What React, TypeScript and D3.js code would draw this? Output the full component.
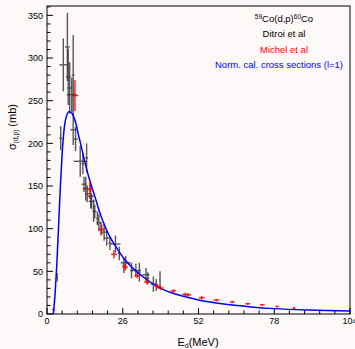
import * as d3 from "d3"

// Ditroi et al: energy (MeV), cross section (mb), errors
const ditroiE = [2.2, 3.5, 4.7, 5.6, 7.0, 7.3, 7.8, 8.5, 9.0, 9.0, 9.8, 11.4, 12.3, 12.7, 13.3, 13.6, 13.8, 15.0, 15.3, 16.0, 16.4, 17.3, 17.8, 18.5, 19.6, 20.5, 21.6, 23.5, 24.8, 26.4, 27.0, 29.0, 30.5, 31.7, 34.0, 34.6, 36.5, 37.5, 38.8]
const ditroiSigma = [5, 43, 206, 292, 313, 278, 265, 257, 280, 216, 205, 179, 176, 152, 147, 183, 141, 138, 132, 121, 120, 112, 107, 100, 96, 89, 83, 82, 71, 57, 60, 51, 51, 49, 46, 42, 35, 34, 40]
const ditroiErr = [2, 5, 14, 31, 40, 33, 30, 20, 47, 18, 14, 18, 12, 9, 14, 17, 10, 14, 9, 13, 8, 8, 10, 8, 10, 9, 8, 10, 8, 9, 8, 9, 8, 11, 8, 7, 9, 7, 10]
const ditroiEErr = [0.3, 0.3, 0.5, 1.4, 0.8, 0.8, 0.8, 1.7, 0.5, 1.0, 0.8, 2.3, 0.5, 0.8, 1.0, 0.5, 0.6, 1.0, 1.0, 0.4, 0.6, 0.4, 0.8, 0.4, 0.9, 0.9, 0.5, 1.7, 0.5, 0.5, 1.7, 0.5, 1.7, 0.4, 1.2, 0.5, 1.0, 0.4, 0.3]

// Michel et al
const michelE = [9.6, 14.7, 18.8, 23.0, 26.8, 31.0, 34.3, 37.9, 39.0, 43.4, 47.4, 48.5, 53.1, 58.2, 63.6, 68.9, 73.9, 79.0, 84.8]
const michelSigma = [256, 146, 99, 70, 55, 45, 37.5, 32.5, 30.5, 27, 23, 22.5, 19, 16.3, 14, 12, 10.8, 8.8, 6.9]
const michelErr = [18, 11, 6, 5, 4, 3, 3, 2.5, 2.5, 2, 2, 2, 2, 1.5, 1.5, 1.2, 1, 1, 1]
const michelEErr = [1.1, 1.1, 1.0, 1.0, 1.0, 1.0, 1.0, 1.0, 1.0, 1.0, 1.0, 1.0, 1.0, 1.0, 0.8, 0.8, 0.8, 0.6, 0.5]

// normalised calculated cross section (l=1)
const calcE = [2.2, 2.8, 3.4, 4.0, 4.6, 5.2, 5.8, 6.6, 7.6, 8.6, 9.6, 10.8, 12.0, 13.2, 14.8, 16.5, 18.2, 20, 22, 24, 26.2, 30, 34, 39, 45, 52, 60, 70, 78, 90, 104]
const calcSigma = [0, 25, 60, 105, 150, 188, 214, 231, 237, 235, 227, 210, 193, 175, 155, 137, 118, 102, 88, 77, 66, 52, 41, 30, 22.5, 16.5, 12, 8.3, 6.3, 4.6, 3.5]

const xMajor = [0, 26, 52, 78, 104]
const yMajor = [0, 50, 100, 150, 200, 250, 300, 350]

const W = 355
const H = 349
const BG = "#fdf9f9"
const FONT = "'Liberation Sans', Arial, sans-serif"

export default function App() {
  const x = d3.scaleLinear().domain([0, 104]).range([47, 350])
  const y = d3.scaleLinear().domain([0, 361]).range([314, 6])

  const xMinor = d3.range(0, 104.01, 5.2).filter((v) => !xMajor.some((m) => Math.abs(m - v) < 0.01))
  const yMinor = d3.range(0, 361, 10).filter((v) => v % 50 !== 0)

  const line = d3
    .line<number>()
    .x((_, i) => x(calcE[i]))
    .y((_, i) => y(calcSigma[i]))
    .curve(d3.curveMonotoneX)

  const bars = (E: number[], S: number[], dS: number[], dE: number[], color: string, w: number, op: number) =>
    E.map((e, i) => (
      <g key={i} stroke={color} strokeWidth={w} opacity={op}>
        <line x1={x(e)} x2={x(e)} y1={y(S[i] - dS[i])} y2={y(S[i] + dS[i])} />
        <line x1={x(e - dE[i])} x2={x(e + dE[i])} y1={y(S[i])} y2={y(S[i])} />
      </g>
    ))

  return (
    <svg width={W} height={H} style={{ position: "absolute", left: 0, top: 0 }} fontFamily={FONT}>
      <rect width={W} height={H} fill={BG} />

      {/* data */}
      <g clipPath="url(#plotClip)">
        {bars(ditroiE, ditroiSigma, ditroiErr, ditroiEErr, "#222", 1.4, 0.75)}
        <path d={line(calcE) ?? ""} fill="none" stroke="#0000ff" strokeWidth={1.5} />
        {bars(michelE, michelSigma, michelErr, michelEErr, "#ff0000", 1.4, 0.9)}
      </g>
      <defs>
        <clipPath id="plotClip">
          <rect x={47} y={6} width={303} height={308} />
        </clipPath>
      </defs>

      {/* frame */}
      <rect x={47} y={6} width={303} height={308} fill="none" stroke="#000" strokeWidth={1} />

      {/* ticks */}
      <g stroke="#000" strokeWidth={1}>
        {xMajor.map((t) => (
          <line key={"xM" + t} x1={x(t)} x2={x(t)} y1={314} y2={308} />
        ))}
        {xMinor.map((t) => (
          <line key={"xm" + t} x1={x(t)} x2={x(t)} y1={314} y2={310.5} />
        ))}
        {yMajor.map((t) => (
          <line key={"yM" + t} x1={47} x2={53} y1={y(t)} y2={y(t)} />
        ))}
        {yMinor.map((t) => (
          <line key={"ym" + t} x1={47} x2={50.5} y1={y(t)} y2={y(t)} />
        ))}
      </g>

      {/* tick labels */}
      <g fontSize={9} fill="#000">
        {xMajor.map((t) => (
          <text key={"xl" + t} x={x(t)} y={323.5} textAnchor="middle">
            {t}
          </text>
        ))}
        {yMajor.map((t) => (
          <text key={"yl" + t} x={43} y={y(t) + 3.2} textAnchor="end">
            {t}
          </text>
        ))}
      </g>

      {/* axis titles */}
      <text x={198} y={346} textAnchor="middle" fontSize={11}>
        E<tspan fontSize={7} dy={2}>d</tspan>
        <tspan dy={-2}>(MeV)</tspan>
      </text>
      <text transform="translate(16,127) rotate(-90)" textAnchor="middle" fontSize={11}>
        σ<tspan fontSize={6.5} dy={2}>(d,p)</tspan>
        <tspan dy={-2}> (mb)</tspan>
      </text>

      {/* legend */}
      <g fontSize={9.5} textAnchor="middle">
        <text x={284} y={21.5} fill="#000">
          <tspan fontSize={6.5} dy={-3}>59</tspan>
          <tspan dy={3}>Co(d,p)</tspan>
          <tspan fontSize={6.5} dy={-3}>60</tspan>
          <tspan dy={3}>Co</tspan>
        </text>
        <text x={284} y={37} fill="#000">Ditroi et al</text>
        <text x={284} y={52.5} fill="#ff0000">Michel et al</text>
        <text x={279} y={68} fill="#0000ff">Norm. cal. cross sections (l=1)</text>
      </g>
    </svg>
  )
}
